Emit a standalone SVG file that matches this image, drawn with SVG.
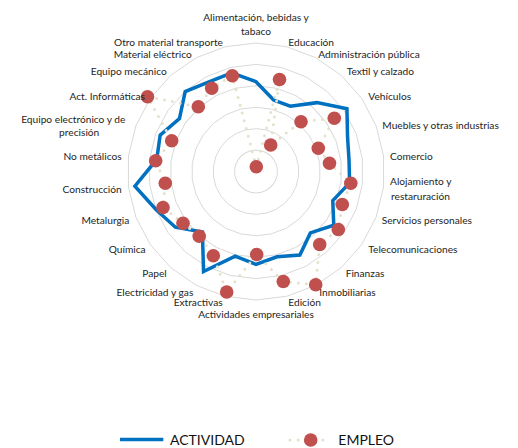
<svg xmlns="http://www.w3.org/2000/svg" xmlns:xlink="http://www.w3.org/1999/xlink" width="518" height="448" viewBox="0 0 518 448">
<style>
.lbl{font-family:Lato,"Liberation Sans",sans-serif;font-size:10.2px;fill:#1e1e1e}
.leg{font-family:Lato,"Liberation Sans",sans-serif;font-size:14px;fill:#111}
.ring{fill:none;stroke:#D9D9D9;stroke-width:1}
.act{fill:none;stroke:#0070C0;stroke-width:3.5;stroke-linejoin:miter}
.emp{fill:none;stroke:#E4E1CC;stroke-width:3;stroke-linecap:round;stroke-dasharray:0 8}
.mk{fill:#C0504D}
</style>
<defs>
<polygon id="ring" points="0,-128.5 30.75,-124.76 59.71,-113.79 85.21,-96.18 105.76,-73 120.15,-45.57 127.56,-15.48 127.56,15.48 120.15,45.57 105.76,73 85.21,96.18 59.71,113.79 30.75,124.76 0,128.5 -30.75,124.76 -59.71,113.79 -85.21,96.18 -105.76,73 -120.15,45.57 -127.56,15.48 -127.56,-15.48 -120.15,-45.57 -105.76,-73 -85.21,-96.18 -59.71,-113.79 -30.75,-124.76"/>
</defs>
<rect width="518" height="448" fill="#fff"/>
<g id="grid" transform="translate(256,171.5)">
<use xlink:href="#ring" class="ring" transform="scale(0.16667)" style="stroke-width:6"/>
<use xlink:href="#ring" class="ring" transform="scale(0.33333)" style="stroke-width:3"/>
<use xlink:href="#ring" class="ring" transform="scale(0.5)" style="stroke-width:2"/>
<use xlink:href="#ring" class="ring" transform="scale(0.66667)" style="stroke-width:1.5"/>
<use xlink:href="#ring" class="ring" transform="scale(0.83333)" style="stroke-width:1.2"/>
<use xlink:href="#ring" class="ring" style="stroke-width:1"/>
</g>
<g id="connectors">
<polygon id="actividad" class="act" points="256,81.7 273.61,100.04 290.29,106.15 317,102.64 346.94,108.72 347.54,136.78 349.02,160.21 349.61,182.86 332.76,200.61 333.77,225.19 310.37,232.88 299.87,255.09 277.03,256.84 256,264.5 235.16,256.07 203.54,271.47 202.42,231.98 175.35,227.17 155.95,209.44 134.89,186.2 156.73,159.45 160.16,135.15 179.46,118.67 185.18,91.56 208.97,81.89 231.69,72.86"/>
<polygon id="empleo-line" class="emp" points="256.3,166.7 279.5,79.5 270.7,145 301,121.7 334.3,118.3 318.3,148.3 329.5,163.3 350.8,183.2 342.3,204.5 338.3,229.5 319.7,244.5 315.7,284.8 283.3,281.5 256.7,254.5 226.7,292 213.3,255.8 199.2,236.2 183,223.2 163,207.5 165.3,183.2 155.7,160.7 171.7,140.7 147.5,96.7 198.3,106.7 211.7,88.3 232.3,75.7"/>
</g>
<g id="markers">
<circle class="mk" cx="256.3" cy="166.7" r="6.8"/>
<circle class="mk" cx="279.5" cy="79.5" r="6.8"/>
<circle class="mk" cx="270.7" cy="145" r="6.8"/>
<circle class="mk" cx="301" cy="121.7" r="6.8"/>
<circle class="mk" cx="334.3" cy="118.3" r="6.8"/>
<circle class="mk" cx="318.3" cy="148.3" r="6.8"/>
<circle class="mk" cx="329.5" cy="163.3" r="6.8"/>
<circle class="mk" cx="350.8" cy="183.2" r="6.8"/>
<circle class="mk" cx="342.3" cy="204.5" r="6.8"/>
<circle class="mk" cx="338.3" cy="229.5" r="6.8"/>
<circle class="mk" cx="319.7" cy="244.5" r="6.8"/>
<circle class="mk" cx="315.7" cy="284.8" r="6.8"/>
<circle class="mk" cx="283.3" cy="281.5" r="6.8"/>
<circle class="mk" cx="256.7" cy="254.5" r="6.8"/>
<circle class="mk" cx="226.7" cy="292" r="6.8"/>
<circle class="mk" cx="213.3" cy="255.8" r="6.8"/>
<circle class="mk" cx="199.2" cy="236.2" r="6.8"/>
<circle class="mk" cx="183" cy="223.2" r="6.8"/>
<circle class="mk" cx="163" cy="207.5" r="6.8"/>
<circle class="mk" cx="165.3" cy="183.2" r="6.8"/>
<circle class="mk" cx="155.7" cy="160.7" r="6.8"/>
<circle class="mk" cx="171.7" cy="140.7" r="6.8"/>
<circle class="mk" cx="147.5" cy="96.7" r="6.8"/>
<circle class="mk" cx="198.3" cy="106.7" r="6.8"/>
<circle class="mk" cx="211.7" cy="88.3" r="6.8"/>
<circle class="mk" cx="232.3" cy="75.7" r="6.8"/>
</g>
<g id="labels">
<g id="n-alimentacion"><text class="lbl" x="256" y="20.5" text-anchor="middle">Alimentación, bebidas y</text><text class="lbl" x="256" y="35" text-anchor="middle">tabaco</text></g>
<g id="n-educacion"><text class="lbl" x="288.3" y="46.2">Educación</text></g>
<g id="n-admin"><text class="lbl" x="318.3" y="57.5">Administración pública</text></g>
<g id="n-textil"><text class="lbl" x="346.7" y="75.2">Textil y calzado</text></g>
<g id="n-vehiculos"><text class="lbl" x="368.3" y="100.2">Vehículos</text></g>
<g id="n-muebles"><text class="lbl" x="382.3" y="128.5">Muebles y otras industrias</text></g>
<g id="n-comercio"><text class="lbl" x="390" y="159.5">Comercio</text></g>
<g id="n-alojamiento"><text class="lbl" x="390" y="185.2">Alojamiento y</text><text class="lbl" x="391" y="200.2">restaruración</text></g>
<g id="n-servicios"><text class="lbl" x="381.7" y="223.5">Servicios personales</text></g>
<g id="n-telecom"><text class="lbl" x="368.3" y="252.8">Telecomunicaciones</text></g>
<g id="n-finanzas"><text class="lbl" x="345.7" y="276.8">Finanzas</text></g>
<g id="n-inmobiliarias"><text class="lbl" x="319.3" y="295.8">Inmobiliarias</text></g>
<g id="n-edicion"><text class="lbl" x="288.3" y="306.2">Edición</text></g>
<g id="n-actemp"><text class="lbl" x="256" y="317.8" text-anchor="middle">Actividades empresariales</text></g>
<g id="n-extractivas"><text class="lbl" x="222.7" y="306.2" text-anchor="end">Extractivas</text></g>
<g id="n-electricidad"><text class="lbl" x="193.3" y="295.8" text-anchor="end">Electricidad y gas</text></g>
<g id="n-papel"><text class="lbl" x="166.7" y="276.8" text-anchor="end">Papel</text></g>
<g id="n-quimica"><text class="lbl" x="145.7" y="252.8" text-anchor="end">Química</text></g>
<g id="n-metalurgia"><text class="lbl" x="129.3" y="223.5" text-anchor="end">Metalurgia</text></g>
<g id="n-construccion"><text class="lbl" x="121.7" y="192.8" text-anchor="end">Construcción</text></g>
<g id="n-nometalicos"><text class="lbl" x="121.7" y="159.5" text-anchor="end">No metálicos</text></g>
<g id="n-equipoelec"><text class="lbl" x="73.3" y="122.5" text-anchor="middle">Equipo electrónico y de</text><text class="lbl" x="79.2" y="135.8" text-anchor="middle">precisión</text></g>
<g id="n-actinf"><text class="lbl" x="145" y="100.2" text-anchor="end">Act. Informáticas</text></g>
<g id="n-equipomec"><text class="lbl" x="166.7" y="75.2" text-anchor="end">Equipo mecánico</text></g>
<g id="n-materialelec"><text class="lbl" x="191.7" y="57.5" text-anchor="end">Material eléctrico</text></g>
<g id="n-otromat"><text class="lbl" x="223" y="46.2" text-anchor="end">Otro material transporte</text></g>
</g>
<g id="legend">
<line x1="120" y1="439.5" x2="163.3" y2="439.5" stroke="#0070C0" stroke-width="3.5"/>
<text class="leg" x="170" y="445">ACTIVIDAD</text>
<line x1="290" y1="440" x2="330" y2="440" class="emp" style="stroke-dasharray:0 8.2"/>
<circle class="mk" cx="310.7" cy="440" r="6.8"/>
<text class="leg" x="338.3" y="445">EMPLEO</text>
</g>
</svg>
